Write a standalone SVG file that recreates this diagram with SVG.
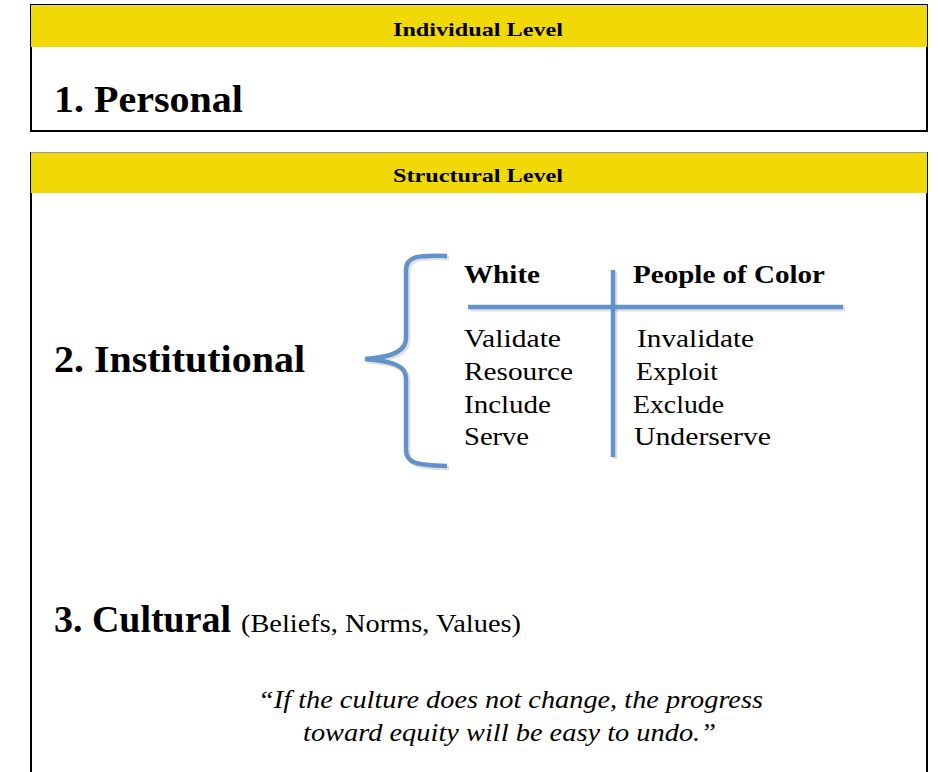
<svg xmlns="http://www.w3.org/2000/svg" width="938" height="772" viewBox="0 0 938 772">
<style>
.box{fill:#fff;stroke:#000;stroke-width:2}
.hdr{fill:#f1d908}
.ht{font-family:"Liberation Serif",serif;font-weight:bold;font-size:19px;fill:#000;text-anchor:middle}
.big{font-family:"Liberation Serif",serif;font-weight:bold;font-size:38px;fill:#000}
.col{font-family:"Liberation Serif",serif;font-weight:bold;font-size:26px;fill:#000}
.it{font-family:"Liberation Serif",serif;font-size:26px;fill:#000}
.sm{font-family:"Liberation Serif",serif;font-size:25px;fill:#000}
.q{font-family:"Liberation Serif",serif;font-style:italic;font-size:26px;fill:#000}
.blue{fill:none;stroke:#6192c8;stroke-width:4.5;stroke-linecap:butt}
.sh{fill:none;stroke:#000;stroke-opacity:0.12;stroke-width:5}
</style>
<rect width="938" height="772" fill="#fff"/>
<g id="individual">
<rect class="box" x="31" y="5" width="896" height="126"/>
<rect class="hdr" x="31" y="5" width="896" height="42"/>
<line x1="31" y1="5.5" x2="927" y2="5.5" stroke="#ccc" stroke-width="1"/>
<text class="ht" x="478" y="36" textLength="170" lengthAdjust="spacingAndGlyphs">Individual Level</text>
<text class="big" x="54" y="112" textLength="189" lengthAdjust="spacingAndGlyphs">1. Personal</text>
</g>
<g id="structural">
<path d="M31,152 V780 M927,152 V780" stroke="#000" stroke-width="2" fill="none"/>
<rect class="hdr" x="31" y="152" width="896" height="41"/>
<line x1="31" y1="152.5" x2="927" y2="152.5" stroke="#999" stroke-width="1"/>
<text class="ht" x="478" y="182" textLength="170" lengthAdjust="spacingAndGlyphs">Structural Level</text>
</g>
<g id="institutional">
<text class="big" x="54" y="372" textLength="251" lengthAdjust="spacingAndGlyphs">2. Institutional</text>
</g>
<g id="connectors">
<path class="sh" d="M449,258 C420,257 408,258 408,272 V340 C408,353 395,359 367,361 C395,363 408,368 408,380 V452 C408,466 420,467 449,468"/>
<path class="blue" d="M447,256 C418,255 406,256 406,270 V338 C406,351 393,357 365,359 C393,361 406,366 406,378 V450 C406,464 418,465 447,466"/>
<line class="sh" x1="470" y1="309" x2="845" y2="309"/>
<line class="sh" x1="615" y1="272" x2="615" y2="459"/>
<line class="blue" x1="468" y1="307" x2="843" y2="307"/>
<line class="blue" x1="613" y1="270" x2="613" y2="457"/>
</g>
<g id="white-col">
<text class="col" x="464" y="283" textLength="76" lengthAdjust="spacingAndGlyphs">White</text>
<text class="it" x="464" y="347" textLength="97" lengthAdjust="spacingAndGlyphs">Validate</text>
<text class="it" x="464" y="380" textLength="109" lengthAdjust="spacingAndGlyphs">Resource</text>
<text class="it" x="464" y="413" textLength="87" lengthAdjust="spacingAndGlyphs">Include</text>
<text class="it" x="464" y="445" textLength="65" lengthAdjust="spacingAndGlyphs">Serve</text>
</g>
<g id="poc-col">
<text class="col" x="633" y="283" textLength="192" lengthAdjust="spacingAndGlyphs">People of Color</text>
<text class="it" x="637" y="347" textLength="117" lengthAdjust="spacingAndGlyphs">Invalidate</text>
<text class="it" x="636" y="380" textLength="82" lengthAdjust="spacingAndGlyphs">Exploit</text>
<text class="it" x="633" y="413" textLength="91" lengthAdjust="spacingAndGlyphs">Exclude</text>
<text class="it" x="634" y="445" textLength="137" lengthAdjust="spacingAndGlyphs">Underserve</text>
</g>
<g id="cultural">
<text class="big" x="54" y="632" textLength="177" lengthAdjust="spacingAndGlyphs">3. Cultural</text>
<text class="sm" x="241" y="632" textLength="280" lengthAdjust="spacingAndGlyphs">(Beliefs, Norms, Values)</text>
<text class="q" x="258" y="708" textLength="505" lengthAdjust="spacingAndGlyphs">“If the culture does not change, the progress</text>
<text class="q" x="303" y="741" textLength="413" lengthAdjust="spacingAndGlyphs">toward equity will be easy to undo.”</text>
</g>
</svg>
